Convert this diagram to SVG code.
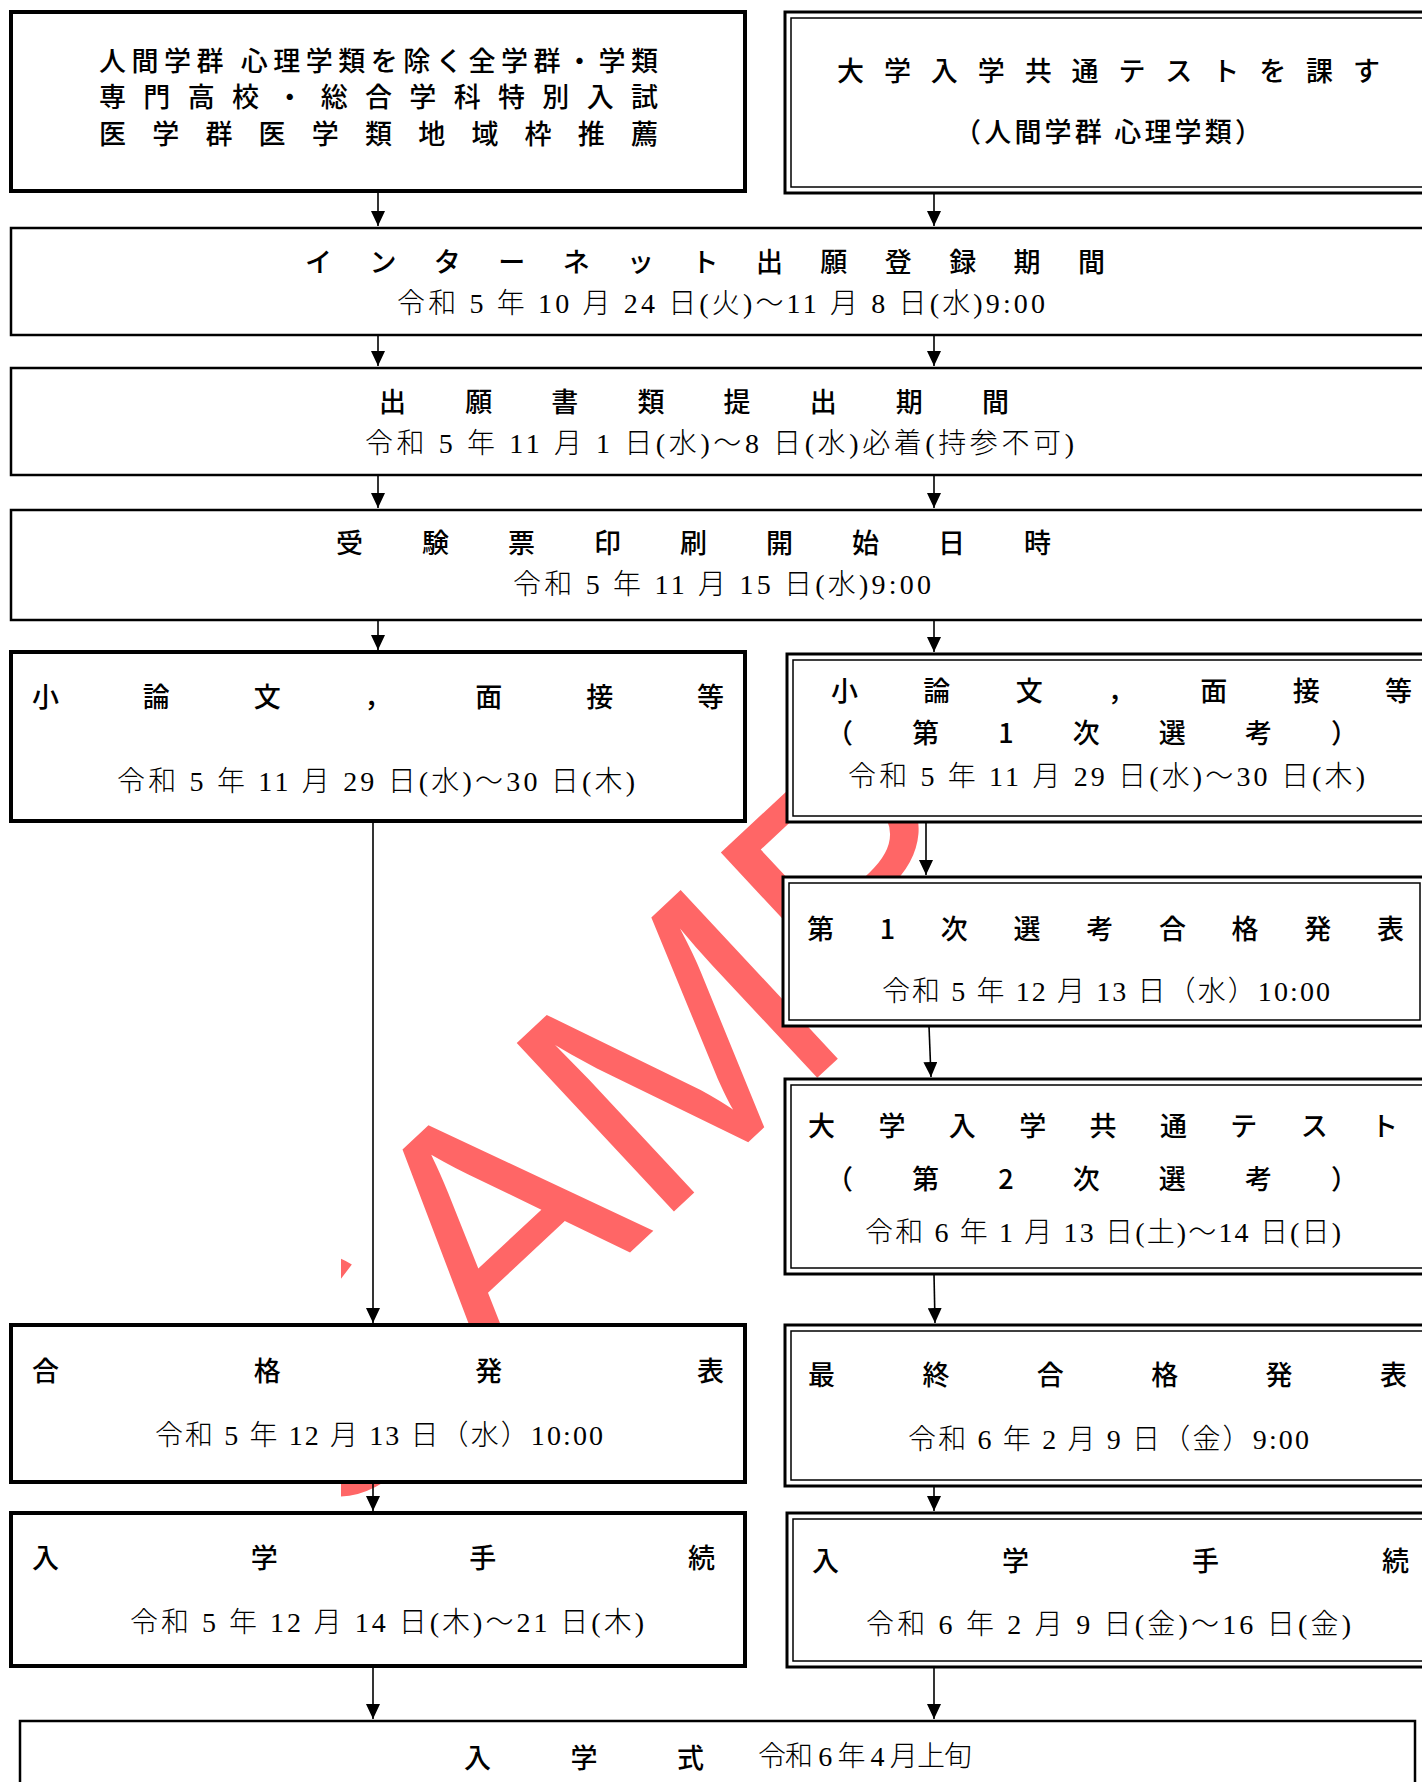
<svg xmlns="http://www.w3.org/2000/svg" width="1422" height="1782" viewBox="0 0 1422 1782">
<style>
.t{font-family:"Noto Sans CJK JP",sans-serif;font-size:27px;font-weight:500;fill:#000;dominant-baseline:central}
.d{font-family:"Liberation Serif","Noto Sans CJK JP",serif;font-size:28px;font-weight:300;fill:#000;dominant-baseline:central}
.b1{fill:#fff;stroke:#000;stroke-width:4}
.b2{fill:#fff;stroke:#000;stroke-width:2.5}
.bo{fill:#fff;stroke:#000;stroke-width:3}
.bi{fill:none;stroke:#000;stroke-width:1.5}
.c{stroke:#000;stroke-width:1.6;fill:none;marker-end:url(#ah)}
.wm{font-family:"Liberation Sans",Arial,sans-serif;font-size:335px;fill:#FF6666}
</style>
<defs>
<marker id="ah" markerUnits="userSpaceOnUse" markerWidth="16" markerHeight="14" refX="15" refY="7" orient="auto">
<path d="M0,0 L15,7 L0,14 Z" fill="#000"/>
</marker>
<clipPath id="wmclip"><rect x="341" y="600" width="579" height="1000"/></clipPath>
</defs>
<rect width="1422" height="1782" fill="#fff"/>
<g id="watermark" clip-path="url(#wmclip)">
<text class="wm" transform="translate(327,1535) rotate(-43)">SAMPLE</text>
</g>
<g id="n1">
<rect class="b1" x="11" y="12" width="734" height="179"/>
<text class="t" x="99" y="59" textLength="559" lengthAdjust="spacing">人間学群 心理学類を除く全学群・学類</text>
<text class="t" x="99" y="95" textLength="559" lengthAdjust="spacing">専門高校・総合学科特別入試</text>
<text class="t" x="99" y="132" textLength="559" lengthAdjust="spacing">医学群医学類地域枠推薦</text>
</g>
<g id="n2">
<rect class="bo" x="785" y="12" width="700" height="181"/>
<rect class="bi" x="791" y="18" width="690" height="169"/>
<text class="t" x="837" y="69" textLength="543" lengthAdjust="spacing">大学入学共通テストを課す</text>
<text class="t" x="954" y="130" textLength="308" lengthAdjust="spacing">（人間学群 心理学類）</text>
</g>
<g id="n3">
<rect class="b2" x="11" y="228" width="1450" height="107"/>
<text class="t" x="305" y="260" textLength="800" lengthAdjust="spacing">インターネット出願登録期間</text>
<text class="d" x="397" y="303" textLength="648" lengthAdjust="spacing">令和 5 年 10 月 24 日(火)～11 月 8 日(水)9:00</text>
</g>
<g id="n4">
<rect class="b2" x="11" y="368" width="1450" height="107"/>
<text class="t" x="379" y="400" textLength="630" lengthAdjust="spacing">出願書類提出期間</text>
<text class="d" x="365" y="443" textLength="709" lengthAdjust="spacing">令和 5 年 11 月 1 日(水)～8 日(水)必着(持参不可)</text>
</g>
<g id="n5">
<rect class="b2" x="11" y="510" width="1450" height="110"/>
<text class="t" x="336" y="541" textLength="715" lengthAdjust="spacing">受験票印刷開始日時</text>
<text class="d" x="513" y="584" textLength="418" lengthAdjust="spacing">令和 5 年 11 月 15 日(水)9:00</text>
</g>
<g id="n6">
<rect class="b1" x="11" y="652" width="734" height="169"/>
<text class="t" x="32" y="695" textLength="692" lengthAdjust="spacing">小論文，面接等</text>
<text class="d" x="117" y="781" textLength="518" lengthAdjust="spacing">令和 5 年 11 月 29 日(水)～30 日(木)</text>
</g>
<g id="n7">
<rect class="bo" x="787" y="654" width="700" height="168"/>
<rect class="bi" x="793" y="660" width="690" height="156"/>
<text class="t" x="831" y="689" textLength="581" lengthAdjust="spacing">小論文，面接等</text>
<text class="t" x="826" y="731" textLength="532" lengthAdjust="spacing">（第1次選考）</text>
<text class="d" x="848" y="776" textLength="517" lengthAdjust="spacing">令和 5 年 11 月 29 日(水)～30 日(木)</text>
</g>
<g id="n8">
<rect class="bo" x="783" y="877" width="643" height="149"/>
<rect class="bi" x="789" y="883" width="631" height="137"/>
<text class="t" x="807" y="927" textLength="597" lengthAdjust="spacing">第1次選考合格発表</text>
<text class="d" x="882" y="991" textLength="448" lengthAdjust="spacing">令和 5 年 12 月 13 日（水）10:00</text>
</g>
<g id="n9">
<rect class="bo" x="785" y="1079" width="700" height="195"/>
<rect class="bi" x="791" y="1085" width="690" height="183"/>
<text class="t" x="808" y="1124" textLength="590" lengthAdjust="spacing">大学入学共通テスト</text>
<text class="t" x="826" y="1177" textLength="532" lengthAdjust="spacing">（第2次選考）</text>
<text class="d" x="865" y="1232" textLength="476" lengthAdjust="spacing">令和 6 年 1 月 13 日(土)～14 日(日)</text>
</g>
<g id="n10">
<rect class="b1" x="11" y="1325" width="734" height="157"/>
<text class="t" x="32" y="1369" textLength="692" lengthAdjust="spacing">合格発表</text>
<text class="d" x="155" y="1435" textLength="448" lengthAdjust="spacing">令和 5 年 12 月 13 日（水）10:00</text>
</g>
<g id="n11">
<rect class="bo" x="785" y="1325" width="700" height="161"/>
<rect class="bi" x="791" y="1331" width="690" height="149"/>
<text class="t" x="808" y="1373" textLength="599" lengthAdjust="spacing">最終合格発表</text>
<text class="d" x="908" y="1439" textLength="401" lengthAdjust="spacing">令和 6 年 2 月 9 日（金）9:00</text>
</g>
<g id="n12">
<rect class="b1" x="11" y="1513" width="734" height="153"/>
<text class="t" x="32" y="1556" textLength="683" lengthAdjust="spacing">入学手続</text>
<text class="d" x="130" y="1622" textLength="514" lengthAdjust="spacing">令和 5 年 12 月 14 日(木)～21 日(木)</text>
</g>
<g id="n13">
<rect class="bo" x="787" y="1513" width="700" height="154"/>
<rect class="bi" x="793" y="1519" width="690" height="142"/>
<text class="t" x="812" y="1559" textLength="597" lengthAdjust="spacing">入学手続</text>
<text class="d" x="866" y="1624" textLength="485" lengthAdjust="spacing">令和 6 年 2 月 9 日(金)～16 日(金)</text>
</g>
<g id="n14">
<rect class="b2" x="20" y="1721" width="1395" height="100"/>
<text class="t" x="464" y="1756" textLength="240" lengthAdjust="spacing">入学式</text>
<text class="d" x="758" y="1756" textLength="214" lengthAdjust="spacing">令和 6 年 4 月上旬</text>
</g>
<g id="connectors">
<line class="c" x1="378" y1="191" x2="378" y2="226"/>
<line class="c" x1="934" y1="193" x2="934" y2="226"/>
<line class="c" x1="378" y1="335" x2="378" y2="366"/>
<line class="c" x1="934" y1="335" x2="934" y2="366"/>
<line class="c" x1="378" y1="475" x2="378" y2="508"/>
<line class="c" x1="934" y1="475" x2="934" y2="508"/>
<line class="c" x1="378" y1="620" x2="378" y2="650"/>
<line class="c" x1="934" y1="620" x2="934" y2="652"/>
<line class="c" x1="373" y1="821" x2="373" y2="1323"/>
<line class="c" x1="926" y1="822" x2="926" y2="875"/>
<line class="c" x1="929" y1="1026" x2="931" y2="1077"/>
<line class="c" x1="934" y1="1274" x2="935" y2="1323"/>
<line class="c" x1="373" y1="1482" x2="373" y2="1511"/>
<line class="c" x1="934" y1="1486" x2="934" y2="1511"/>
<line class="c" x1="373" y1="1666" x2="373" y2="1719"/>
<line class="c" x1="934" y1="1667" x2="934" y2="1719"/>
</g>
</svg>
